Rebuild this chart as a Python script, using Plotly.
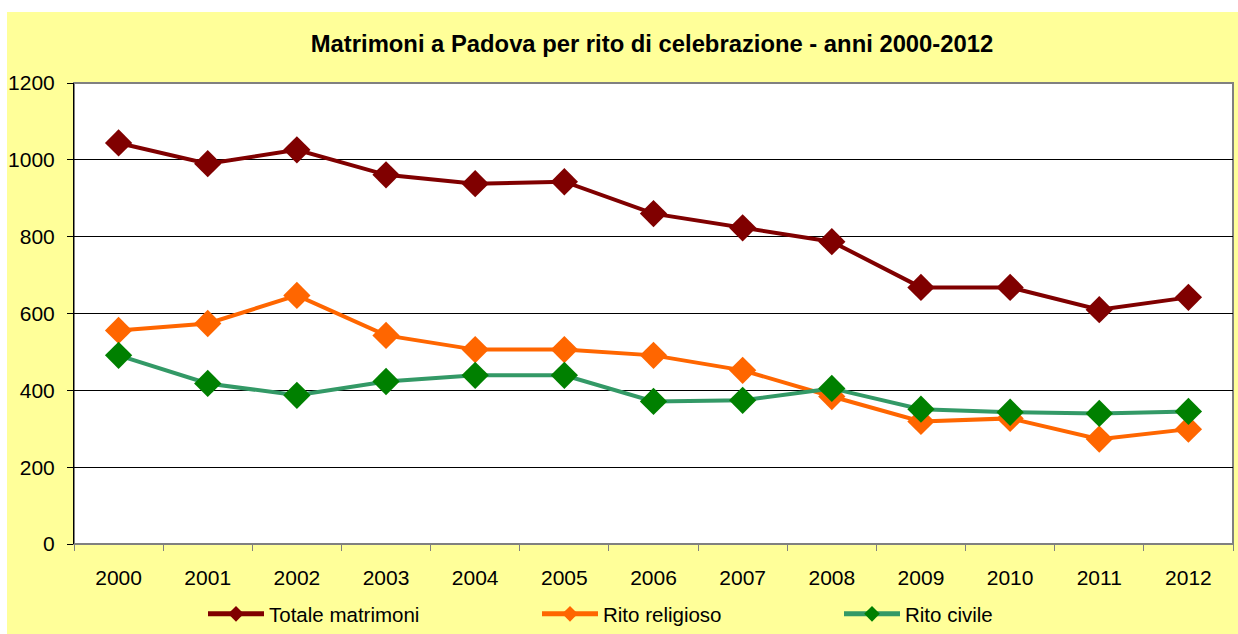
import plotly.graph_objects as go

anni = ["2000", "2001", "2002", "2003", "2004", "2005", "2006", "2007", "2008", "2009", "2010", "2011", "2012"]
totale = [1044, 990, 1026, 961, 938, 943, 860, 823, 787, 668, 668, 610, 642]
religioso = [556, 574, 647, 543, 506, 506, 491, 452, 384, 319, 327, 273, 299]
civile = [491, 418, 387, 423, 439, 439, 371, 374, 405, 351, 343, 340, 345]

FONT = "Liberation Sans, Arial, sans-serif"

fig = go.Figure()
fig.add_trace(go.Scatter(x=anni, y=totale, name="Totale matrimoni", mode="lines+markers",
                         line=dict(color="#800000", width=4),
                         marker=dict(symbol="diamond", size=21, color="#800000"),
                         legend="legend"))
fig.add_trace(go.Scatter(x=anni, y=religioso, name="Rito religioso", mode="lines+markers",
                         line=dict(color="#FF6600", width=4),
                         marker=dict(symbol="diamond", size=21, color="#FF6600"),
                         legend="legend2"))
fig.add_trace(go.Scatter(x=anni, y=civile, name="Rito civile", mode="lines+markers",
                         line=dict(color="#339966", width=4),
                         marker=dict(symbol="diamond", size=21, color="#008000"),
                         legend="legend3"))

W, H = 1238, 634
L, R, T, B = 74, 5, 83, 90
pw = W - L - R
ph = H - T - B

def px_x(p):
    return (p - L) / pw

def px_y(p):
    return (H - B - p) / ph

leg_common = dict(orientation="h", yanchor="middle", xanchor="left",
                  bgcolor="rgba(0,0,0,0)", font=dict(family=FONT, size=20.5, color="#000000"),
                  itemsizing="constant", itemwidth=56)

fig.update_layout(
    width=W, height=H,
    margin=dict(l=L, r=R, t=T, b=B, autoexpand=False),
    paper_bgcolor="#FFFF99",
    plot_bgcolor="#FFFFFF",
    title=dict(text="<b>Matrimoni a Padova per rito di celebrazione - anni 2000-2012</b>",
               xref="container", x=652 / W, xanchor="center", y=1 - 44 / H, yanchor="middle",
               font=dict(family=FONT, size=23.8, color="#000000")),
    showlegend=True,
    legend=dict(x=px_x(203), y=px_y(614), **leg_common),
    legend2=dict(x=px_x(537), y=px_y(614), **leg_common),
    legend3=dict(x=px_x(839), y=px_y(614), **leg_common),
    xaxis=dict(type="category", range=[-0.5, 12.5], tickson="boundaries",
               ticks="outside", ticklen=6, tickcolor="#808080",
               showline=True, linecolor="#808080", linewidth=1,
               showgrid=False, ticklabelstandoff=15,
               tickfont=dict(family=FONT, size=21, color="#000000")),
    yaxis=dict(range=[0, 1200], tickvals=[0, 200, 400, 600, 800, 1000, 1200],
               ticks="outside", ticklen=6, tickcolor="#000000",
               showline=True, linecolor="#000000", linewidth=1,
               showgrid=True, gridcolor="#000000", gridwidth=1, zeroline=False,
               ticklabelstandoff=8,
               tickfont=dict(family=FONT, size=21, color="#000000")),
    shapes=[
        dict(type="rect", xref="paper", yref="paper", layer="below",
             x0=px_x(-10), x1=px_x(W + 10), y0=px_y(12), y1=px_y(-10),
             fillcolor="#FFFFFF", line=dict(width=0)),
        dict(type="rect", xref="paper", yref="paper", layer="below",
             x0=px_x(-10), x1=px_x(7), y0=px_y(H + 10), y1=px_y(-10),
             fillcolor="#FFFFFF", line=dict(width=0)),
        dict(type="rect", xref="paper", yref="paper", layer="below",
             x0=0, x1=1, y0=0, y1=1,
             fillcolor="rgba(0,0,0,0)", line=dict(color="#808080", width=2)),
    ],
)

fig.write_html("out.html", config={"displayModeBar": False},
               post_script="document.body.style.margin='0';document.body.style.overflow='hidden';")
